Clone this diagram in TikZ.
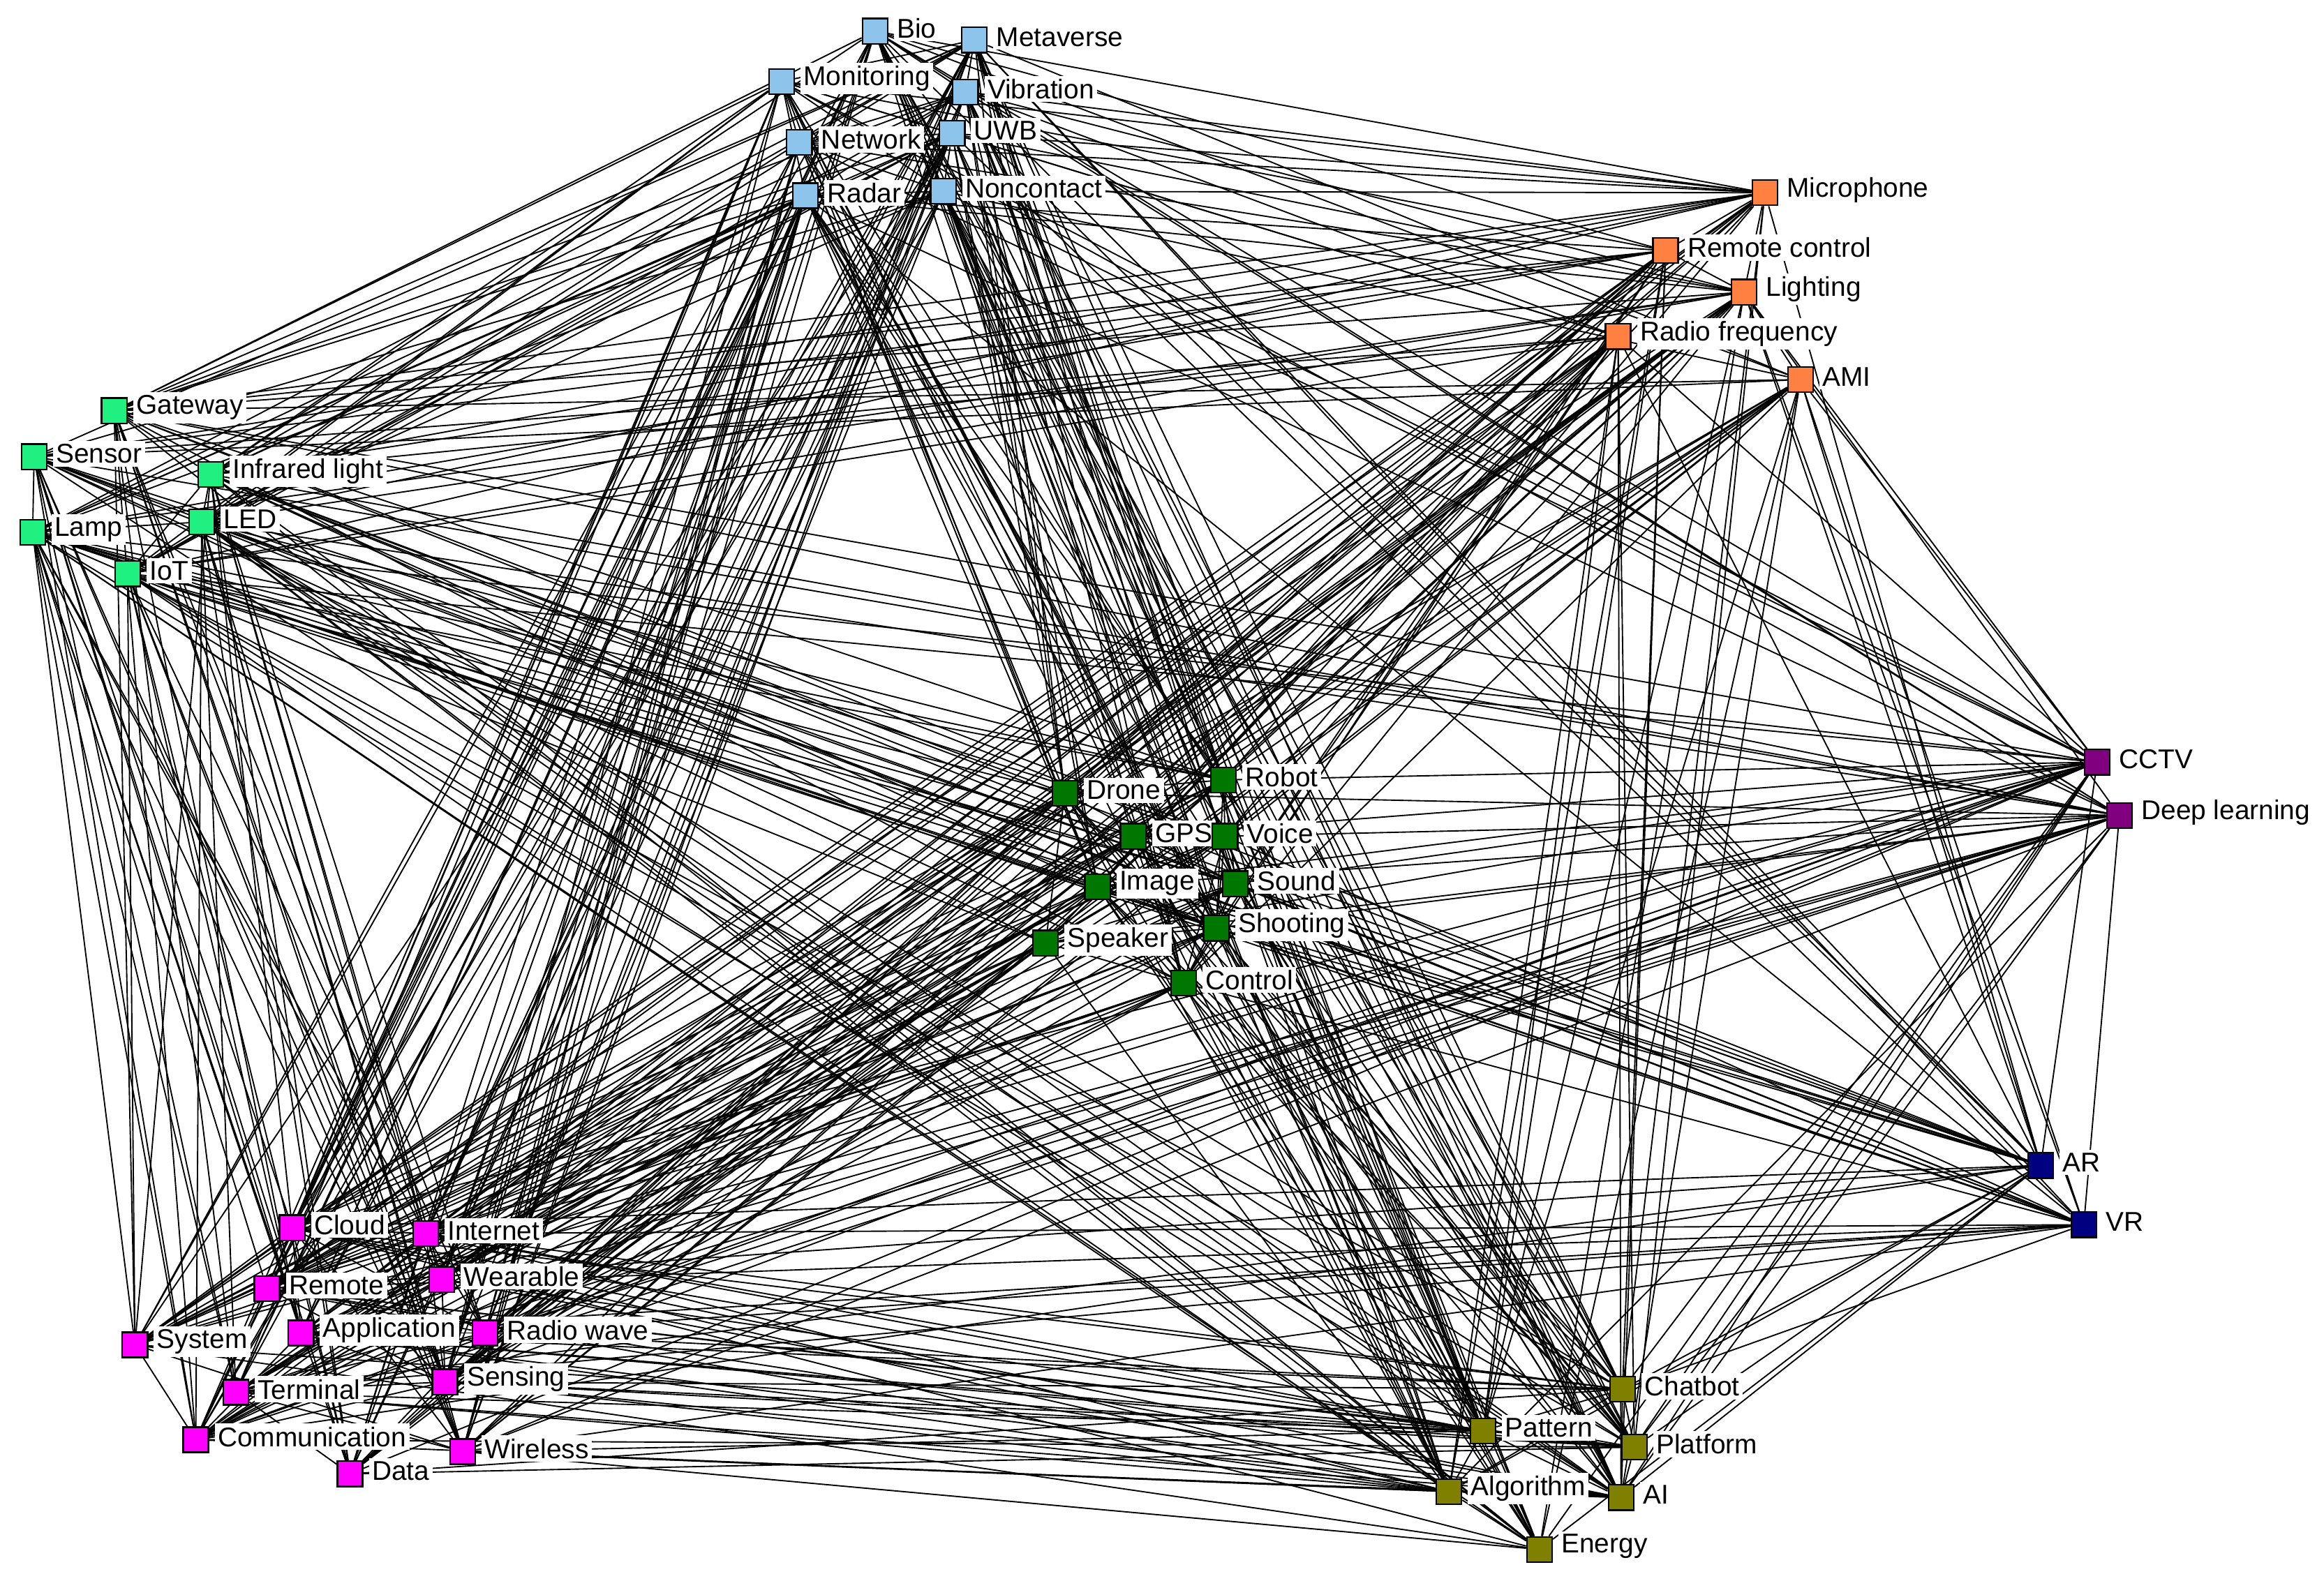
\documentclass[tikz,border=0pt]{standalone}
\usepackage{fontspec}
\setmainfont{Liberation Sans}
\usetikzlibrary{backgrounds}
\begin{document}
\begin{tikzpicture}[x=0.01cm,y=-0.01cm,
  sq/.style={draw=black,line width=0.3pt,minimum size=0.17cm,inner sep=0pt,fill=#1},
  lab/.style={fill=white,inner sep=0.6pt,anchor=west,font=\fontsize{5.2}{6}\selectfont},
  edge/.style={line width=0.25pt,black}]
\useasboundingbox (0,0) rectangle (1567,1066);
\definecolor{cb}{HTML}{8CC4EC}
\definecolor{co}{HTML}{FF8040}
\definecolor{cs}{HTML}{20F080}
\definecolor{cg}{HTML}{007800}
\definecolor{cp}{HTML}{800080}
\definecolor{cn}{HTML}{000080}
\definecolor{cm}{HTML}{FF00FF}
\definecolor{cl}{HTML}{808000}
\foreach \n/\x/\y/\c/\t in {
 bio/590/21/cb/Bio, meta/657/27/cb/Metaverse, mon/527/55/cb/Monitoring, vib/651/62/cb/Vibration,
 net/539/96/cb/Network, uwb/642/90/cb/UWB, rad/543/132/cb/Radar, nonc/636/129/cb/Noncontact,
 mic/1190/130/co/Microphone, rc/1123/169/co/Remote control, lig/1176/197/co/Lighting,
 rf/1091/227/co/Radio frequency, ami/1214/256/co/AMI,
 gw/77/277/cs/Gateway, sen/23/308/cs/Sensor, ir/142/320/cs/Infrared light, lamp/22/359/cs/Lamp,
 led/136/352/cs/LED, iot/86/387/cs/IoT,
 dro/718/535/cg/Drone, rob/825/526/cg/Robot, gps/764/564/cg/GPS, voi/826/564/cg/Voice,
 img/740/598/cg/Image, snd/833/596/cg/Sound, spk/705/636/cg/Speaker, sho/820/626/cg/Shooting,
 ctl/798/663/cg/Control,
 cctv/1414/514/cp/CCTV, dl/1429/550/cp/Deep learning,
 ar/1376/786/cn/AR, vr/1405/826/cn/VR,
 clo/197/828/cm/Cloud, int/287/832/cm/Internet, rem/180/869/cm/Remote, wea/298/863/cm/Wearable,
 sys/91/907/cm/System, app/203/899/cm/Application, rw/327/899/cm/Radio wave, ter/159/939/cm/Terminal,
 sns/300/932/cm/Sensing, com/132/971/cm/Communication, wir/312/979/cm/Wireless, dat/236/994/cm/Data,
 cha/1094/937/cl/Chatbot, pat/1000/965/cl/Pattern, pla/1102/976/cl/Platform, alg/977/1006/cl/Algorithm,
 ai/1093/1010/cl/AI, ene/1038/1045/cl/Energy}
{
 \node[sq=\c] (\n) at (\x,\y) {};
 \node[lab] (\n-l) at ([xshift=0.03cm,yshift=0.02cm]\n.east) {\t};
}
\pgfmathsetseed{11}
\def\names{bio,meta,mon,vib,net,uwb,rad,nonc,mic,rc,lig,rf,ami,gw,sen,ir,lamp,led,iot,dro,rob,gps,voi,img,snd,spk,sho,ctl,cctv,dl,ar,vr,clo,int,rem,wea,sys,app,rw,ter,sns,com,wir,dat,cha,pat,pla,alg,ai,ene}
\begin{scope}[on background layer]
\foreach \u [count=\i] in \names {
  \foreach \v [count=\j] in \names {
    \ifnum\j>\i
      \pgfmathsetmacro\r{rnd}
      \ifdim\r pt<0.5pt \draw[edge] (\u) -- (\v); \fi
    \fi
  }
}
\end{scope}
\end{tikzpicture}
\end{document}
